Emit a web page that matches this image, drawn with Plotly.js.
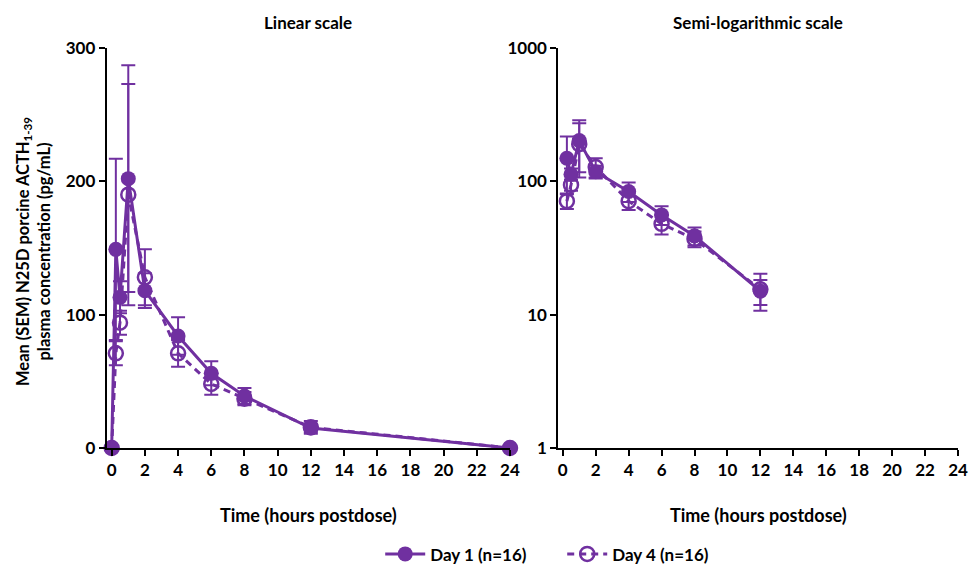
<!DOCTYPE html>
<html>
<head>
<meta charset="utf-8">
<script src="https://cdn.plot.ly/plotly-3.0.1.min.js"></script>
<style>html,body{margin:0;padding:0;background:#fff;}#chart{width:971px;height:568px;}</style>
</head>
<body>
<div id="chart"></div>
<script>
const timeHours = [0, 0.25, 0.5, 1, 2, 4, 6, 8, 12, 24];
const day1Mean = [0, 149, 113, 202, 118, 84, 56, 39, 15, 0];
const day1Sem  = [0, 68, 12, 85, 13, 14, 9, 6, 3.2, 0];
const day4Mean = [0, 71, 94, 190, 128, 71, 48, 37, 15.5, 0];
const day4Sem  = [0, 9, 9, 83, 21, 10, 8, 5, 4.8, 0];
const xTicks = [0, 2, 4, 6, 8, 10, 12, 14, 16, 18, 20, 22, 24];
const linTicks = [0, 100, 200, 300];
const logTicks = [1, 10, 100, 1000];
const seriesNames = ['Day 1 (n=16)', 'Day 4 (n=16)'];

const purple = '#7030A0';
const F = 'Lato, "Open Sans", sans-serif';

function errBar(arr) {
  return {type: 'data', array: arr, visible: true, color: purple, thickness: 2, width: 7};
}
// zero concentrations cannot be drawn on a log axis
const posOnly = arr => arr.map(v => (v > 0 ? v : null));

function traces(xa, ya, showleg, logScale) {
  const m1 = logScale ? posOnly(day1Mean) : day1Mean;
  const m4 = logScale ? posOnly(day4Mean) : day4Mean;
  return [
    {
      x: timeHours, y: m4, xaxis: xa, yaxis: ya, name: seriesNames[1],
      mode: 'lines+markers', showlegend: showleg, legendrank: 2, cliponaxis: false,
      connectgaps: false,
      line: {color: purple, width: 3, dash: '7px,5px'},
      marker: {symbol: 'circle-open', size: 14, color: purple, line: {width: 2.5, color: purple}},
      error_y: errBar(day4Sem)
    },
    {
      x: timeHours, y: m1, xaxis: xa, yaxis: ya, name: seriesNames[0],
      mode: 'lines+markers', showlegend: showleg, legendrank: 1, cliponaxis: false,
      connectgaps: false,
      line: {color: purple, width: 3},
      marker: {symbol: 'circle', size: 15, color: purple},
      error_y: errBar(day1Sem)
    }
  ];
}

const data = traces('x', 'y', true, false).concat(traces('x2', 'y2', false, true));

const axCommon = {
  showgrid: false, zeroline: false, showline: true, linecolor: '#000', linewidth: 2,
  ticks: 'outside', ticklen: 6, tickwidth: 2, tickcolor: '#000',
  tickfont: {family: F, size: 17, color: '#000', weight: 'bold'}, fixedrange: true
};

const titleFont = {family: F, size: 17, color: '#000', weight: 'bold'};
const xTitleFont = {family: F, size: 18, color: '#000', weight: 'bold'};

const layout = {
  width: 971, height: 568,
  margin: {l: 0, r: 0, t: 48, b: 120},
  paper_bgcolor: '#fff', plot_bgcolor: '#fff',
  showlegend: true,
  legend: {orientation: 'h', x: 0.579, xanchor: 'center', xref: 'container',
           y: 0.024, yanchor: 'middle', yref: 'container',
           entrywidth: 127, entrywidthmode: 'pixels',
           font: {family: F, size: 17, color: '#000', weight: 'bold'}, itemwidth: 40},
  xaxis: Object.assign({}, axCommon, {domain: [0.1099, 0.5252], range: [-0.3, 24], tickvals: xTicks}),
  yaxis: Object.assign({}, axCommon, {anchor: 'x', range: [0, 300], tickvals: linTicks}),
  xaxis2: Object.assign({}, axCommon, {domain: [0.575, 0.9866], range: [-0.27, 24], tickvals: xTicks, anchor: 'y2'}),
  yaxis2: Object.assign({}, axCommon, {anchor: 'x2', type: 'log', range: [0, 3], tickvals: logTicks, ticktext: logTicks.map(String)}),
  annotations: [
    {text: 'Linear scale', xref: 'paper', yref: 'paper', x: 308/971, y: 1.065, xanchor: 'center', yanchor: 'middle', showarrow: false, font: titleFont},
    {text: 'Semi-logarithmic scale', xref: 'paper', yref: 'paper', x: 758/971, y: 1.065, xanchor: 'center', yanchor: 'middle', showarrow: false, font: titleFont},
    {text: 'Time (hours postdose)', xref: 'paper', yref: 'paper', x: 308/971, y: -0.1675, xanchor: 'center', yanchor: 'middle', showarrow: false, font: xTitleFont},
    {text: 'Time (hours postdose)', xref: 'paper', yref: 'paper', x: 758/971, y: -0.1675, xanchor: 'center', yanchor: 'middle', showarrow: false, font: xTitleFont},
    {text: 'Mean (SEM) N25D porcine ACTH<sub>1-39</sub><br>plasma concentration (pg/mL)', xref: 'paper', yref: 'paper',
     x: 33/971, y: 0.49, xanchor: 'center', yanchor: 'middle', showarrow: false, textangle: -90,
     font: {family: F, size: 16.5, color: '#000', weight: 'bold'}}
  ]
};

Plotly.newPlot('chart', data, layout, {displayModeBar: false, staticPlot: true});
</script>
</body>
</html>
